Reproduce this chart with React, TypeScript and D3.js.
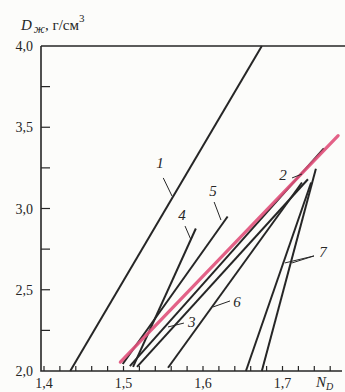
import * as d3 from 'd3';
import React, { useEffect } from 'react';

// refractive index N_D vs density of heavy liquids, two end points per line
const line1 = [{ n: 1.433, d: 2.0 }, { n: 1.674, d: 4.0 }];
const line2 = [{ n: 1.508, d: 2.03 }, { n: 1.752, d: 3.37 }];
const line3 = [{ n: 1.517, d: 2.025 }, { n: 1.732, d: 3.18 }];
const line4 = [{ n: 1.512, d: 2.025 }, { n: 1.591, d: 2.877 }];
const line5 = [{ n: 1.499, d: 2.043 }, { n: 1.631, d: 2.951 }];
const line6 = [{ n: 1.556, d: 2.02 }, { n: 1.7245, d: 3.16 }];
const line7a = [{ n: 1.654, d: 2.0 }, { n: 1.736, d: 3.16 }];
const line7b = [{ n: 1.674, d: 2.0 }, { n: 1.742, d: 3.245 }];
const redLine = [{ n: 1.496, d: 2.055 }, { n: 1.77, d: 3.448 }];

const blackLines = [line1, line2, line3, line4, line5, line6, line7a, line7b];

// curve numbers: text anchor and leader segments, in data units
const curveLabels = [
  { text: '1', n: 1.546, d: 3.249, leaders: [[1.55, 3.188, 1.561, 3.077]] },
  { text: '2', n: 1.7006, d: 3.175, leaders: [[1.712, 3.188, 1.7245, 3.212]] },
  { text: '3', n: 1.586, d: 2.271, leaders: [[1.576, 2.295, 1.556, 2.271]] },
  { text: '4', n: 1.5736, d: 2.929, leaders: [[1.5774, 2.892, 1.585, 2.806]] },
  { text: '5', n: 1.6126, d: 3.077, leaders: [[1.614, 3.04, 1.6226, 2.929]] },
  { text: '6', n: 1.6428, d: 2.394, leaders: [[1.634, 2.431, 1.6126, 2.394]] },
  {
    text: '7',
    n: 1.751,
    d: 2.702,
    leaders: [
      [1.7396, 2.708, 1.703, 2.665],
      [1.7396, 2.708, 1.712, 2.665],
    ],
  },
];

const xTicks = d3.range(1.4, 1.761, 0.02);
const xLabels = [1.4, 1.5, 1.6, 1.7];
const yTicks = d3.range(2.0, 4.001, 0.25);
const yLabels = [2.0, 2.5, 3.0, 3.5, 4.0];

export default function App() {
  const ref = React.useRef<SVGSVGElement>(null);

  useEffect(() => {
    if (!ref.current) return;
    const svg = d3.select(ref.current);
    svg.selectAll('*').remove();

    const x = d3.scaleLinear().domain([1.4, 1.7]).range([44, 282.5]);
    const y = d3.scaleLinear().domain([2, 4]).range([371, 46]);
    const ink = '#262626';
    const serif = "'Liberation Serif', 'DejaVu Serif', serif";
    const comma = (v: number) => d3.format('.1f')(v).replace('.', ',');

    svg.append('rect').attr('width', 345).attr('height', 392).attr('fill', '#fcfcfa');

    // frame: left, top and bottom
    const x0 = 41;
    svg
      .append('path')
      .attr('d', `M${x0},${y(4)}H345M${x0},${y(4)}V${y(2)}H342`)
      .attr('fill', 'none')
      .attr('stroke', ink)
      .attr('stroke-width', 1.6);

    // x ticks point up into the plot
    svg
      .selectAll('.xt')
      .data(xTicks)
      .enter()
      .append('line')
      .attr('x1', d => x(d))
      .attr('x2', d => x(d))
      .attr('y1', y(2))
      .attr('y2', y(2) - 5)
      .attr('stroke', ink)
      .attr('stroke-width', 1.2);

    svg
      .selectAll('.xl')
      .data(xLabels)
      .enter()
      .append('text')
      .attr('x', d => x(d))
      .attr('y', 388)
      .attr('text-anchor', 'middle')
      .attr('font-family', serif)
      .attr('font-size', 14)
      .attr('fill', ink)
      .text(d => comma(d));

    // y ticks point right
    svg
      .selectAll('.yt')
      .data(yTicks.filter(d => d > 2 && d < 4))
      .enter()
      .append('line')
      .attr('x1', x0)
      .attr('x2', x0 + 9)
      .attr('y1', d => y(d))
      .attr('y2', d => y(d))
      .attr('stroke', ink)
      .attr('stroke-width', 1.2);

    svg
      .selectAll('.yl')
      .data(yLabels)
      .enter()
      .append('text')
      .attr('x', 33)
      .attr('y', d => y(d) + 5)
      .attr('text-anchor', 'end')
      .attr('font-family', serif)
      .attr('font-size', 14)
      .attr('fill', ink)
      .text(d => comma(d));

    // axis titles
    const yTitle = svg
      .append('text')
      .attr('x', 21)
      .attr('y', 30)
      .attr('font-family', serif)
      .attr('font-size', 15)
      .attr('fill', ink);
    yTitle.append('tspan').attr('font-style', 'italic').text('D');
    yTitle
      .append('tspan')
      .attr('font-style', 'italic')
      .attr('font-size', 12)
      .attr('dx', 2)
      .attr('dy', 3)
      .text('ж');
    yTitle.append('tspan').attr('dy', -3).text(', г/см');
    yTitle.append('tspan').attr('font-size', 11).attr('dy', -8).text('3');

    const xTitle = svg
      .append('text')
      .attr('x', 316)
      .attr('y', 387)
      .attr('font-family', serif)
      .attr('font-size', 15)
      .attr('font-style', 'italic')
      .attr('fill', ink);
    xTitle.append('tspan').text('N');
    xTitle.append('tspan').attr('font-size', 10).attr('dy', 3).text('D');

    const line = d3
      .line<{ n: number; d: number }>()
      .x(p => x(p.n))
      .y(p => y(p.d));

    blackLines.forEach(pts => {
      svg
        .append('path')
        .attr('d', line(pts))
        .attr('fill', 'none')
        .attr('stroke', ink)
        .attr('stroke-width', 2);
    });

    svg
      .append('path')
      .attr('d', line(redLine))
      .attr('fill', 'none')
      .attr('stroke', '#e0507a')
      .attr('stroke-width', 3.2)
      .attr('stroke-linecap', 'round')
      .attr('opacity', 0.9);

    // curve numbers with leaders
    curveLabels.forEach(lb => {
      lb.leaders.forEach(([a, b, c, e]) => {
        svg
          .append('line')
          .attr('x1', x(a))
          .attr('y1', y(b))
          .attr('x2', x(c))
          .attr('y2', y(e))
          .attr('stroke', ink)
          .attr('stroke-width', 1);
      });
      svg
        .append('text')
        .attr('x', x(lb.n))
        .attr('y', y(lb.d))
        .attr('text-anchor', 'middle')
        .attr('font-family', serif)
        .attr('font-style', 'italic')
        .attr('font-size', 15)
        .attr('fill', ink)
        .text(lb.text);
    });
  }, []);

  return (
    <svg
      ref={ref}
      width={345}
      height={392}
      style={{ position: 'absolute', left: 0, top: 0 }}
    />
  );
}
